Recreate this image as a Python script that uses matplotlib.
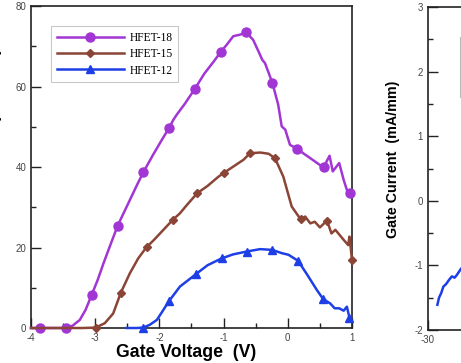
import matplotlib
matplotlib.use("Agg")
import matplotlib.pyplot as plt
from matplotlib.ticker import MultipleLocator, FixedLocator
from matplotlib.patches import Rectangle

plt.rcParams["font.family"] = ["Liberation Sans", "DejaVu Sans"]
plt.rcParams["axes.unicode_minus"] = False

# transconductance vs gate voltage (left panel)
v18 = [-4.0, -3.855, -3.6, -3.45, -3.35, -3.24, -3.15, -3.055, -2.96, -2.87, -2.76, -2.65,
       -2.55, -2.46, -2.35, -2.25, -2.1, -1.96, -1.85, -1.78, -1.73, -1.6, -1.445, -1.3,
       -1.15, -1.04, -0.95, -0.85, -0.74, -0.65, -0.54, -0.45, -0.40, -0.355, -0.24, -0.15,
       -0.095, -0.04, 0.034, 0.15, 0.25, 0.35, 0.50, 0.56, 0.65, 0.70, 0.80, 0.87, 0.92, 0.97]
g18 = [0, 0, 0, 0, 0.6, 2.0, 4.5, 8.2, 12.0, 16.1, 20.8, 25.4,
       28.8, 31.8, 35.5, 38.7, 43.0, 46.8, 49.7, 51.8, 53.0, 55.8, 59.5, 63.2,
       66.3, 68.7, 70.4, 72.5, 72.9, 73.5, 71.6, 68.5, 66.7, 65.8, 60.9, 55.5,
       50.1, 49.3, 45.5, 44.5, 43.3, 42.2, 40.5, 40.0, 42.8, 38.9, 41.0, 36.8, 34.3, 33.5]
m18 = [-3.855, -3.45, -3.055, -2.65, -2.25, -1.85, -1.445, -1.04, -0.65, -0.24, 0.15, 0.56, 0.97]

v15 = [-4.0, -3.5, -3.2, -2.99, -2.85, -2.72, -2.60, -2.46, -2.33, -2.20, -2.09, -1.99,
       -1.79, -1.68, -1.57, -1.41, -1.25, -1.08, -1.0, -0.85, -0.69, -0.59, -0.43, -0.30,
       -0.20, -0.07, 0.06, 0.20, 0.27, 0.35, 0.42, 0.50, 0.61, 0.68, 0.74, 0.87, 0.94, 0.96, 1.0]
g15 = [0, 0, 0, 0.1, 1.2, 3.6, 8.8, 13.6, 17.3, 20.1, 21.8, 23.5,
       26.9, 28.5, 30.6, 33.5, 35.3, 37.6, 38.5, 40.1, 41.8, 43.4, 43.6, 43.3,
       42.2, 37.6, 30.2, 27.0, 27.7, 26.0, 26.4, 25.0, 26.7, 23.5, 24.4, 21.9, 20.6, 22.7, 16.9]
m15 = [-2.99, -2.60, -2.20, -1.79, -1.41, -1.0, -0.59, -0.20, 0.20, 0.61, 1.0]

v12 = [-2.51, -2.35, -2.25, -2.15, -2.04, -1.95, -1.85, -1.68, -1.55, -1.43, -1.25, -1.03,
       -0.85, -0.64, -0.43, -0.24, -0.095, 0.01, 0.16, 0.32, 0.45, 0.55, 0.66, 0.73,
       0.80, 0.87, 0.92, 0.96]
g12 = [0, 0, 0.1, 0.8, 2.0, 4.2, 6.7, 10.3, 11.9, 13.4, 15.6, 17.3,
       18.3, 19.0, 19.6, 19.4, 18.6, 18.2, 16.7, 12.8, 9.5, 7.2, 6.1, 4.9,
       4.9, 4.3, 5.3, 2.6]
m12 = [-2.25, -1.85, -1.43, -1.03, -0.64, -0.24, 0.16, 0.55, 0.96]

# gate current (right panel, mostly cut off)
vg = [-28.2, -27.9, -27.5, -27.1, -26.6, -26.0, -25.5, -25.0, -24.6, -24.2, -23.8, -23.0, -22.0]
ig = [-1.61, -1.50, -1.43, -1.33, -1.29, -1.22, -1.17, -1.19, -1.15, -1.10, -1.05, -0.98, -0.90]

series = [
    (v18, g18, m18, "HFET-18", "#a236d4", "o", 6.5),
    (v15, g15, m15, "HFET-15", "#8b4536", "D", 4.3),
    (v12, g12, m12, "HFET-12", "#1f3fe6", "^", 5.5),
]

tickcol = "#444444"


def style_axes(ax):
    ax.tick_params(which="both", direction="in", top=False, right=False,
                   labelsize=7, labelcolor=tickcol, width=1.0, color="#222222")
    ax.tick_params(which="major", length=7.5)
    ax.tick_params(which="minor", length=3.6)
    for s in ax.spines.values():
        s.set_linewidth(1.2)
        s.set_color("#222222")


fig = plt.figure(figsize=(4.61, 3.63), dpi=100)

ax = fig.add_axes([0.0672, 0.0964, 0.6964, 0.887])
handles = []
for xs, ys, mk, lab, col, marker, ms in series:
    idx = [i for i, v in enumerate(xs) if v in mk]
    ln, = ax.plot(xs, ys, color=col, lw=1.8, marker=marker, ms=ms, markevery=idx,
                  label=lab, clip_on=False, zorder=3)
    handles.append(ln)

ax.set_xlim(-4, 1)
ax.set_ylim(0, 80)
ax.xaxis.set_major_locator(MultipleLocator(1))
ax.xaxis.set_minor_locator(MultipleLocator(0.5))
ax.yaxis.set_major_locator(MultipleLocator(20))
ax.yaxis.set_minor_locator(MultipleLocator(10))
style_axes(ax)

leg = ax.legend(handles=handles, loc="upper left", bbox_to_anchor=(0.0623, 0.938),
                borderaxespad=0, fancybox=False, frameon=True, numpoints=1,
                handlelength=5.8, handletextpad=0.5, labelspacing=0.38, borderpad=0.5,
                prop={"family": "Liberation Serif", "size": 8.3})
leg.get_frame().set_edgecolor("#bbbbbb")
leg.get_frame().set_linewidth(0.8)

fig.text(0.403, 0.030, "Gate Voltage  (V)", ha="center", va="center",
         fontsize=12.7, fontweight="bold")
# y label of the left panel: only its right edge shows in the picture
fig.text(0.005, 0.5386, "Transconductance  (mS/mm)", rotation=90, ha="right", va="center",
         fontsize=12.5, fontweight="bold")

ax2 = fig.add_axes([0.9278, 0.0909, 0.7, 0.8898])
ax2.plot(vg, ig, color="#1f3fe6", lw=1.8)
ax2.set_xlim(-30, 30)
ax2.set_ylim(-2, 3)
ax2.xaxis.set_major_locator(FixedLocator([-30]))
ax2.yaxis.set_major_locator(MultipleLocator(1))
ax2.yaxis.set_minor_locator(MultipleLocator(0.5))
style_axes(ax2)
# legend frame of the right panel, only its left edge is inside the picture
ax2.add_patch(Rectangle((0.1, 0.72), 0.4, 0.187, transform=ax2.transAxes, fill=False,
                        edgecolor="#bbbbbb", lw=0.8, clip_on=False))

fig.text(0.8525, 0.562, "Gate Current  (mA/mm)", rotation=90, ha="center", va="center",
         fontsize=10.3, fontweight="bold")

fig.savefig("out.png", dpi=100)
